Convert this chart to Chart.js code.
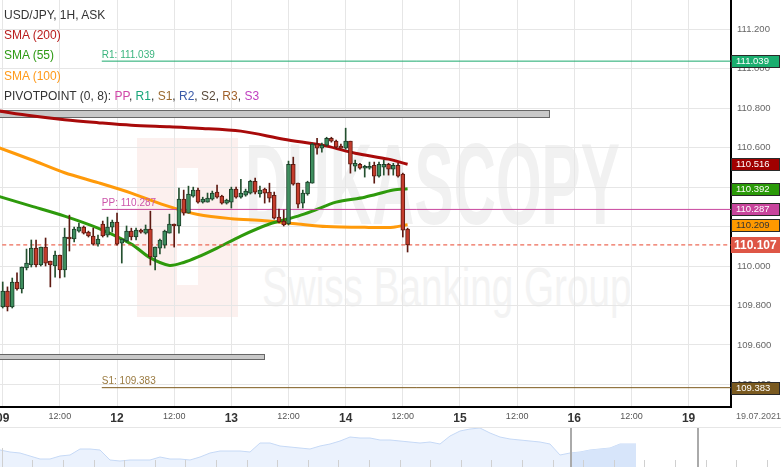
<!DOCTYPE html>
<html>
<head>
<meta charset="utf-8">
<script src="https://cdn.jsdelivr.net/npm/chart.js@4.4.1/dist/chart.umd.min.js"></script>
<style>
  body { margin: 0; background: #fff; font-family: "Liberation Sans", Arial, sans-serif; }
  #wrap { position: relative; width: 781px; height: 467px; overflow: hidden; }
  canvas { position: absolute; left: 0; }
  #main { top: 0; }
  #nav { top: 427px; }
  .wm { position: absolute; white-space: nowrap; }
  .logo { left: 137px; top: 138px; width: 101px; height: 179px; background: #fcf0ee; }
  .logo-in { left: 177px; top: 168px; width: 21px; height: 117px; background: #fff; }
  .duka { left: 245px; top: 127px; font-size: 115px; line-height: 1; font-weight: bold; color: #f1f1f1;
          transform: scaleX(0.51); transform-origin: left top; }
  .swiss { left: 262px; top: 259px; font-size: 56px; line-height: 1; color: #f3f3f3;
           transform: scaleX(0.69); transform-origin: left top; }
  .legend { position: absolute; left: 4px; font-size: 12px; line-height: 14px; color: #333; white-space: nowrap; }
  .date { position: absolute; left: 736px; top: 411px; font-size: 9px; color: #666; }
</style>
</head>
<body>
<div id="wrap">
  <div class="wm logo"></div>
  <div class="wm logo-in"></div>
  <div class="wm duka">DUKASCOPY</div>
  <div class="wm swiss">Swiss Banking Group</div>
  <canvas id="main" width="781" height="427"></canvas>
  <canvas id="nav" width="781" height="40"></canvas>
  <div class="legend" style="top:8px">USD/JPY, 1H, ASK</div>
  <div class="legend" style="top:28px;color:#b81c1c">SMA (200)</div>
  <div class="legend" style="top:48px;color:#2e9a14">SMA (55)</div>
  <div class="legend" style="top:69px;color:#ff9a1a">SMA (100)</div>
  <div class="legend" style="top:89px">PIVOTPOINT (0, 8): <span style="color:#d048a8">PP</span>, <span style="color:#19a67a">R1</span>, <span style="color:#9a6a30">S1</span>, <span style="color:#3a5aa8">R2</span>, <span style="color:#5a4a3a">S2</span>, <span style="color:#a0602a">R3</span>, <span style="color:#c040c0">S3</span></div>
  <div class="date">19.07.2021</div>
</div>
<script>
// ---- hourly candles, USD/JPY 1H (hour 0 = 09.07 00:00, weekend skipped) ----
const opens = [109.792,109.873,109.792,109.919,109.884,109.990,110.005,110.091,110.005,110.096,
  110.025,110.000,110.056,109.980,110.147,110.137,110.177,110.197,110.172,110.152,
  110.111,110.213,110.157,110.197,110.223,110.116,110.127,110.177,110.147,110.182,
  110.167,110.187,110.046,110.091,110.106,110.167,110.213,110.203,110.339,110.268,
  110.354,110.385,110.324,110.324,110.339,110.375,110.354,110.319,110.324,110.390,
  110.349,110.359,110.370,110.430,110.365,110.390,110.375,110.359,110.248,110.228,
  110.213,110.516,110.420,110.319,110.365,110.420,110.618,110.597,110.613,110.648,
  110.633,110.608,110.597,110.633,110.506,110.516,110.496,110.496,110.511,110.456,
  110.501,110.516,110.491,110.511,110.466,110.187];
const highs = [109.919,109.894,109.939,109.965,109.995,110.086,110.132,110.132,110.096,110.142,
  110.025,110.076,110.056,110.192,110.258,110.197,110.218,110.203,110.177,110.192,
  110.157,110.228,110.248,110.233,110.268,110.137,110.203,110.192,110.192,110.187,
  110.208,110.278,110.096,110.137,110.182,110.263,110.213,110.395,110.385,110.405,
  110.400,110.395,110.349,110.370,110.380,110.410,110.359,110.339,110.400,110.400,
  110.440,110.390,110.435,110.446,110.405,110.395,110.420,110.375,110.289,110.284,
  110.532,110.552,110.420,110.385,110.430,110.623,110.648,110.623,110.653,110.653,
  110.638,110.618,110.699,110.633,110.537,110.521,110.511,110.527,110.527,110.527,
  110.537,110.521,110.521,110.521,110.471,110.192];
const lows = [109.787,109.772,109.787,109.878,109.863,109.980,109.995,109.995,110.000,110.000,
  109.894,109.944,109.939,109.944,110.076,110.122,110.172,110.162,110.147,110.106,
  110.101,110.147,110.147,110.172,110.106,110.015,110.122,110.132,110.132,110.167,
  110.162,110.005,109.980,110.061,110.091,110.167,110.096,110.167,110.258,110.268,
  110.349,110.319,110.319,110.324,110.334,110.344,110.314,110.314,110.294,110.344,
  110.344,110.354,110.365,110.365,110.349,110.319,110.324,110.238,110.218,110.203,
  110.208,110.410,110.294,110.294,110.359,110.420,110.567,110.577,110.608,110.628,
  110.597,110.597,110.592,110.471,110.481,110.491,110.451,110.491,110.420,110.451,
  110.461,110.461,110.461,110.451,110.147,110.071];
const closes = [109.873,109.792,109.919,109.884,109.995,110.015,110.091,110.005,110.096,110.015,
  110.005,110.056,109.980,110.147,110.137,110.187,110.197,110.167,110.152,110.111,
  110.137,110.152,110.197,110.223,110.111,110.137,110.177,110.147,110.182,110.172,
  110.187,110.046,110.096,110.132,110.177,110.213,110.203,110.339,110.268,110.365,
  110.385,110.324,110.339,110.344,110.370,110.349,110.319,110.334,110.390,110.349,
  110.370,110.380,110.430,110.375,110.385,110.370,110.344,110.243,110.223,110.208,
  110.516,110.415,110.314,110.370,110.425,110.618,110.597,110.613,110.648,110.633,
  110.603,110.597,110.633,110.516,110.521,110.496,110.506,110.506,110.456,110.516,
  110.516,110.491,110.511,110.456,110.182,110.107];

// ---- moving averages, read at a few hours ----
const sma200Hours = [-1, 6, 13, 20, 27, 35, 41, 50, 59, 68, 74, 81, 85];
const sma200 = [110.787,110.762,110.742,110.727,110.714,110.706,110.699,110.684,110.643,110.608,110.572,110.542,110.516];
const sma55Hours = [-1, 6, 13, 20, 27, 31, 35, 38, 41, 45, 50, 56, 62, 65, 70, 76, 82, 85];
const sma55 = [110.354,110.304,110.253,110.192,110.111,110.041,110.003,110.018,110.046,110.091,110.152,110.213,110.253,110.278,110.324,110.349,110.385,110.392];
const sma100Hours = [-1, 6, 13, 20, 27, 34, 41, 48, 55, 62, 68, 76, 82, 85];
const sma100 = [110.602,110.539,110.473,110.423,110.370,110.309,110.261,110.240,110.230,110.213,110.200,110.196,110.197,110.209];

// ---- pivot levels and price ----
const pivotNames = ['R1', 'PP', 'S1'];
const pivotValues = [111.039, 110.287, 109.383];
const pivotColors = ['#18a86b', '#c8479f', '#7d5a1c'];
const pivotTextColors = ['#3ab47e', '#cc55aa', '#9a7a40'];
const pivotStart = 20.8;
const lastPrice = 110.107;

// grey zones (hour from/to, price high/low)
const zoneFrom = [-3, -3];
const zoneTo = [114.7, 54.9];
const zoneHigh = [110.790, 109.554];
const zoneLow = [110.754, 109.528];

// right-side value tags
const tagValues = [111.039, 110.516, 110.392, 110.287, 110.209, 110.107, 109.383];
const tagFill = ['#1aae6f', '#a00000', '#2a9a08', '#c8449c', '#ff9900', '#de5646', '#7a5a20'];
const tagText = ['#fff', '#fff', '#fff', '#fff', '#333', '#fff', '#fff'];

// axes
const xTickHours = [0, 12, 24, 36, 48, 60, 72, 84, 96, 108, 120, 132, 144];
const xTickLabels = ['09', '12:00', '12', '12:00', '13', '12:00', '14', '12:00', '15', '12:00', '16', '12:00', '19'];
const yTicks = [109.4, 109.6, 109.8, 110.0, 110.2, 110.4, 110.6, 110.8, 111.0, 111.2];
const X_MIN = -0.57, X_MAX = 152.9;
const Y_MIN = 109.285, Y_MAX = 111.349;

// navigator (long history strip), sampled every 10 units
const navValues = [17,15,14,11,8,8,11,12,18,18,17,7,6,7,7,7,10,8,8,7,10,14,16,16,16,15,24,24,21,20,
  19,18,21,23,26,30,29,29,27,27,26,25,24,25,23,31,36,38,39,34,30,28,27,26,25,23,12,14,15,17,18,19,23,23];
const navEnd = 63.6;
const navSelFrom = 57.1;
const navHandles = [57.1, 69.8];

const FONT = '"Liberation Sans", Arial, sans-serif';
const hours = opens.map((_, i) => i);
const up = hours.map(i => closes[i] >= opens[i]);

const lineSet = (hrs, vals, color, width) => ({
  type: 'line', data: hrs.map((h, i) => ({ x: h, y: vals[i] })),
  borderColor: color, borderWidth: width, pointRadius: 0, tension: 0.3, order: 3
});
const flatSet = (from, v, color, dash) => ({
  type: 'line', data: [{ x: from, y: v }, { x: X_MAX + 1, y: v }],
  borderColor: color, borderWidth: 1, borderDash: dash || [], pointRadius: 0, order: 2
});

const overlay = {
  id: 'overlay',
  beforeDatasetsDraw(chart) {
    const { ctx, chartArea: a, scales: { x, y } } = chart;
    ctx.save();
    ctx.beginPath(); ctx.rect(a.left, a.top, a.right - a.left, a.bottom - a.top); ctx.clip();
    zoneFrom.forEach((f, i) => {
      const x1 = x.getPixelForValue(f), x2 = x.getPixelForValue(zoneTo[i]);
      const y1 = y.getPixelForValue(zoneHigh[i]), y2 = y.getPixelForValue(zoneLow[i]);
      ctx.fillStyle = '#c8c8c8';
      ctx.fillRect(x1, y1, x2 - x1, y2 - y1);
      ctx.strokeStyle = '#666'; ctx.lineWidth = 1;
      ctx.strokeRect(Math.round(x1) + 0.5, Math.round(y1) + 0.5, Math.round(x2 - x1), Math.round(y2 - y1));
    });
    ctx.restore();
  },
  afterDatasetsDraw(chart) {
    const { ctx, scales: { x, y } } = chart;
    ctx.save();
    ctx.font = '10px ' + FONT;
    ctx.textBaseline = 'bottom';
    pivotNames.forEach((n, i) => {
      ctx.fillStyle = pivotTextColors[i];
      ctx.fillText(n + ': ' + pivotValues[i].toFixed(3), x.getPixelForValue(pivotStart), y.getPixelForValue(pivotValues[i]) - 1);
    });
    ctx.restore();
  },
  afterDraw(chart) {
    const { ctx, chartArea: a, scales: { y } } = chart;
    ctx.save();
    tagValues.forEach((v, i) => {
      const big = v === lastPrice;
      const h = big ? 16 : 13;
      const yc = Math.round(y.getPixelForValue(v));
      const top = yc - Math.floor(h / 2);
      ctx.fillStyle = tagFill[i];
      ctx.fillRect(a.right, top, 49, h);
      if (!big) {
        ctx.strokeStyle = '#2a2a2a'; ctx.lineWidth = 1;
        ctx.strokeRect(a.right + 0.5, top + 0.5, 48, h - 1);
      }
      ctx.fillStyle = tagText[i];
      ctx.font = big ? 'bold 12px ' + FONT : '9.5px ' + FONT;
      ctx.textBaseline = 'middle';
      ctx.fillText(v.toFixed(3), a.right + (big ? 3 : 5), yc + 0.5);
    });
    ctx.restore();
  }
};

new Chart(document.getElementById('main'), {
  type: 'bar',
  data: {
    datasets: [
      {
        data: hours.map(i => ({ x: i, y: [opens[i], closes[i]] })),
        backgroundColor: hours.map(i => up[i] ? '#3e8e5e' : '#c43c2c'),
        borderColor: hours.map(i => up[i] ? '#1c3f2a' : '#5c1a10'),
        borderWidth: 1, borderSkipped: false, barThickness: 4, grouped: false, minBarLength: 1, order: 0
      },
      {
        data: hours.map(i => ({ x: i, y: [lows[i], highs[i]] })),
        backgroundColor: hours.map(i => up[i] ? '#24502f' : '#5e1a12'),
        barThickness: 1, grouped: false, order: 1
      },
      lineSet(sma200Hours, sma200, '#a80a0a', 3),
      lineSet(sma55Hours, sma55, '#2e9a0c', 3),
      lineSet(sma100Hours, sma100, '#ff9a0a', 3),
      flatSet(pivotStart, pivotValues[0], pivotColors[0]),
      flatSet(pivotStart, pivotValues[1], pivotColors[1]),
      flatSet(pivotStart, pivotValues[2], pivotColors[2]),
      flatSet(X_MIN - 1, lastPrice, '#e8452c', [4, 3])
    ]
  },
  options: {
    responsive: false,
    animation: false,
    layout: { padding: 0 },
    plugins: { legend: { display: false }, tooltip: { enabled: false } },
    scales: {
      x: {
        type: 'linear', min: X_MIN, max: X_MAX, offset: false,
        grid: { color: '#e6e6e6', drawTicks: false, offset: false },
        border: { color: '#000', width: 2 },
        afterBuildTicks: s => { s.ticks = xTickHours.map(v => ({ value: v })); },
        afterFit: s => { s.height = 20; s.paddingLeft = 0; s.paddingRight = 0; },
        ticks: {
          autoSkip: false, maxRotation: 0, padding: 4,
          callback: (v, i) => xTickLabels[i],
          font: c => xTickLabels[c.index] && xTickLabels[c.index].includes(':')
            ? { family: FONT, size: 9 } : { family: FONT, size: 12, weight: 'bold' },
          color: c => xTickLabels[c.index] && xTickLabels[c.index].includes(':') ? '#555' : '#333'
        }
      },
      y: {
        position: 'right', min: Y_MIN, max: Y_MAX,
        grid: { color: '#e6e6e6', drawTicks: false },
        border: { color: '#000', width: 2 },
        afterBuildTicks: s => { s.ticks = yTicks.map(v => ({ value: v })); },
        afterFit: s => { s.width = 50; s.paddingTop = 0; s.paddingBottom = 0; },
        ticks: { padding: 6, callback: v => Number(v).toFixed(3), font: { family: FONT, size: 9.5 }, color: '#666' }
      }
    }
  },
  plugins: [overlay]
});

// ---- navigator strip ----
const navData = navValues.map((v, i) => ({ x: i, y: v }));
navData.push({ x: navEnd, y: navValues[navValues.length - 1] });

const navDeco = {
  id: 'navDeco',
  afterDraw(chart) {
    const { ctx, chartArea: a, scales: { x } } = chart;
    ctx.save();
    ctx.fillStyle = '#e6e6e6';
    ctx.fillRect(0, 0, chart.width, 1);
    ctx.fillStyle = '#d0d0d0';
    for (let t = 0.17; t < 78.1; t += 3.06) {
      ctx.fillRect(Math.round(x.getPixelForValue(t)), a.bottom - 7, 1, 7);
    }
    ctx.fillRect(Math.round(x.getPixelForValue(0.17)), a.bottom - 19, 1, 19);
    ctx.fillStyle = '#aaaaaa';
    navHandles.forEach(h => ctx.fillRect(Math.round(x.getPixelForValue(h)) - 1, 1, 2, a.bottom - 1));
    ctx.restore();
  }
};

new Chart(document.getElementById('nav'), {
  type: 'line',
  data: {
    datasets: [
      { data: navData.filter(p => p.x >= navSelFrom - 0.1).map(p => ({ x: Math.max(p.x, navSelFrom), y: p.y })),
        borderColor: 'rgba(0,0,0,0)', backgroundColor: '#d7e5fa', fill: 'origin', pointRadius: 0, borderWidth: 0 },
      { data: navData, borderColor: '#c6d9f6', backgroundColor: '#ebf2fd', fill: 'origin', pointRadius: 0, borderWidth: 1 }
    ]
  },
  options: {
    responsive: false, animation: false,
    layout: { padding: 0 },
    plugins: { legend: { display: false }, tooltip: { enabled: false } },
    scales: {
      x: { type: 'linear', display: false, min: 0, max: 78.1 },
      y: { display: false, min: 0, max: 40 }
    }
  },
  plugins: [navDeco]
});
</script>
</body>
</html>
